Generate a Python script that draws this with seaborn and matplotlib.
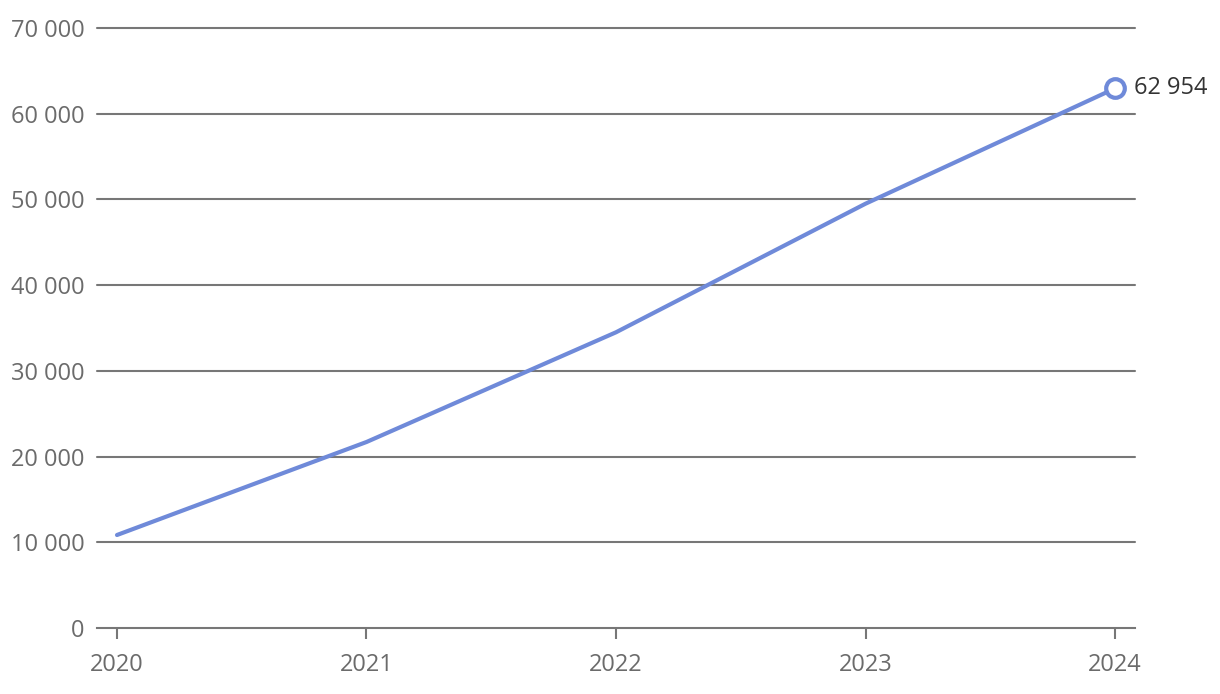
import matplotlib
matplotlib.use("Agg")
import matplotlib.pyplot as plt
import seaborn as sns
import pandas as pd
from matplotlib.ticker import FuncFormatter

years = [2020, 2021, 2022, 2023, 2024]
values = [10850, 21700, 34500, 49500, 62954]
yticks = [0, 10000, 20000, 30000, 40000, 50000, 60000, 70000]

sns.set_theme(style="white")
plt.rcParams['font.family'] = ['Open Sans', 'DejaVu Sans']

df = pd.DataFrame({"year": years, "value": values})
line_color = "#6f8ad9"

fig = plt.figure(figsize=(12.2, 6.94), dpi=100)
ax = fig.add_axes([97/1220, 1 - 628/694, (1135-97)/1220, (628-28)/694])

for y in yticks[1:]:
    ax.axhline(y, color="#777777", lw=1.5, zorder=1, clip_on=False)

sns.lineplot(data=df, x="year", y="value", ax=ax, color=line_color, lw=3, zorder=3)
last = df.iloc[[-1]]
sns.scatterplot(data=last, x="year", y="value", ax=ax, s=180, facecolor="white",
                edgecolor=line_color, linewidth=3, zorder=4)
ax.annotate(f"{values[-1]:,}".replace(",", " "), (years[-1], values[-1]),
            xytext=(14, 0), textcoords="offset points", va="center", ha="left",
            fontsize=17, color="#333333", annotation_clip=False)

ax.set_xlim(2020 - 20/249.5, 2024 + 20/249.5)
ax.set_ylim(0, 70000)
ax.set_xticks(years)
ax.set_yticks(yticks)
ax.yaxis.set_major_formatter(FuncFormatter(lambda v, p: f"{int(v):,}".replace(",", " ")))
ax.set_xlabel("")
ax.set_ylabel("")
for s in ["top", "right", "left"]:
    ax.spines[s].set_visible(False)
ax.spines["bottom"].set_color("#777777")
ax.spines["bottom"].set_linewidth(1.5)
ax.tick_params(axis="x", bottom=True, length=8, width=1.5, color="#777777",
               labelsize=17, labelcolor="#6b6b6b", pad=10)
ax.tick_params(axis="y", left=False, labelsize=17, labelcolor="#6b6b6b", pad=3)

fig.savefig("out.png", dpi=100)
